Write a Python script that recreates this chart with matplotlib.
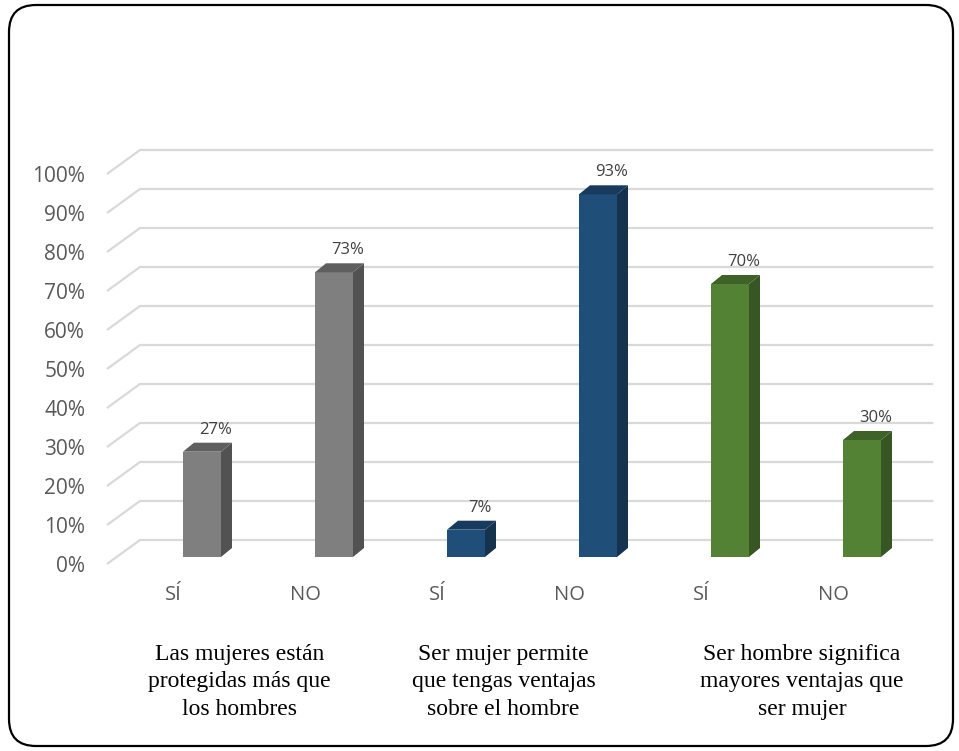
import matplotlib
matplotlib.use("Agg")
import matplotlib.pyplot as plt
from matplotlib.patches import Polygon, Rectangle, FancyBboxPatch

# data
categories = ["SÍ", "NO", "SÍ", "NO", "SÍ", "NO"]
values = [27, 73, 7, 93, 70, 30]
value_labels = ["27%", "73%", "7%", "93%", "70%", "30%"]
groups = ["Las mujeres están\nprotegidas más que\nlos hombres",
          "Ser mujer permite\nque tengas ventajas\nsobre el hombre",
          "Ser hombre significa\nmayores ventajas que\nser mujer"]
ticks = [0, 10, 20, 30, 40, 50, 60, 70, 80, 90, 100]
tick_labels = ["%d%%" % t for t in ticks]

# colours per group: front, side, top
front_cols = ["#7f7f7f", "#7f7f7f", "#1f4e79", "#1f4e79", "#548235", "#548235"]
side_cols = ["#525252", "#525252", "#15324f", "#15324f", "#375623", "#375623"]
top_cols = ["#5f5f5f", "#5f5f5f", "#183a5c", "#183a5c", "#3f6229", "#3f6229"]

fig = plt.figure(figsize=(9.59, 7.51), dpi=100)
ax = fig.add_axes([0, 0, 1, 1])
# 1 x unit = 132 px, 1 y unit = 3.9 px
ax.set_xlim(-202 / 132, (959 - 202) / 132)
ax.set_ylim((557 - 751) / 3.9, 557 / 3.9)
ax.axis("off")

# 3d geometry (data units)
w = 38 / 132
bdx, bdy = 11 / 132, 9 / 3.9
gx0, gdx = -0.72, 0.25
gfront, gback = -1.8, 4.36
gx1 = 5.54

grid_col = "#d9d9d9"
for t, lab in zip(ticks, tick_labels):
    ax.plot([gx0, gx0 + gdx, gx1], [t + gfront, t + gback, t + gback],
            color=grid_col, lw=1.6, zorder=1, solid_capstyle="butt")
    ax.text(gx0 - 0.165, t + gfront - 0.6, lab, ha="right", va="center",
            fontsize=15, color="#595959", family="Open Sans")

for i, v in enumerate(values):
    l, r = i - w / 2, i + w / 2
    ax.add_patch(Rectangle((l, 0), w, v, facecolor=front_cols[i],
                           edgecolor="none", zorder=3))
    ax.add_patch(Polygon([(r, 0), (r + bdx, bdy), (r + bdx, v + bdy), (r, v)],
                         closed=True, facecolor=side_cols[i], edgecolor="none", zorder=3))
    ax.add_patch(Polygon([(l, v), (l + bdx, v + bdy), (r + bdx, v + bdy), (r, v)],
                         closed=True, facecolor=top_cols[i], edgecolor="none", zorder=3))
    ax.text(i + 0.106, v + 5.6, value_labels[i], ha="center", va="center",
            fontsize=12, color="#404040", family="Open Sans", zorder=4)
    ax.text(i - 0.215, -9.8, categories[i], ha="center", va="center",
            fontsize=14.5, color="#595959", family="Open Sans")

group_shift = [0, 0, 0.26]
for g, txt in enumerate(groups):
    ax.text(2 * g + 0.5 - 0.215 + group_shift[g], -32.0, txt, ha="center", va="center",
            fontsize=17, color="black", family="Liberation Serif",
            linespacing=1.42)

# rounded outer border
border = FancyBboxPatch((0.09, 0.05), 9.44, 7.41,
                        boxstyle="round,pad=0,rounding_size=0.27",
                        transform=fig.dpi_scale_trans, facecolor="none",
                        edgecolor="black", lw=1.6)
fig.add_artist(border)

fig.savefig("out.png", dpi=100)
